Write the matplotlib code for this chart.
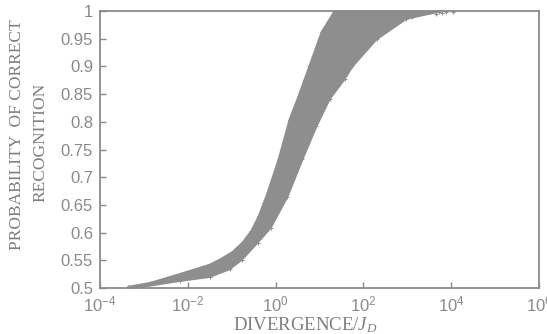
import numpy as np
import matplotlib
matplotlib.use("Agg")
import matplotlib.pyplot as plt

plt.rcParams['mathtext.fontset'] = 'custom'
plt.rcParams['mathtext.rm'] = 'Liberation Serif'
plt.rcParams['mathtext.it'] = 'Liberation Serif:italic'

# --- data (log10 of divergence, probability) ---
# upper-left edge of the point cloud
left_logx = [-3.36, -2.86, -2.02, -1.50, -1.27, -0.98, -0.75, -0.55, -0.38, -0.18, 0.07, 0.32, 0.50, 0.77, 1.05, 1.34]
left_y    = [0.502, 0.509, 0.529, 0.542, 0.551, 0.565, 0.582, 0.603, 0.630, 0.672, 0.732, 0.804, 0.841, 0.900, 0.962, 0.999]
# lower-right edge of the point cloud
right_logx = [-3.20, -2.18, -1.50, -1.05, -0.77, -0.41, -0.11, 0.27, 0.61, 0.93, 1.23, 1.57, 1.75, 2.30, 2.98, 3.73]
right_y    = [0.500, 0.513, 0.520, 0.534, 0.551, 0.582, 0.609, 0.665, 0.732, 0.792, 0.841, 0.877, 0.900, 0.949, 0.986, 0.999]
# sparse points near the top right
top_logx = [2.60, 2.90, 3.10, 3.27, 3.45, 3.66, 3.80, 3.89, 4.05]
top_y    = [0.996, 0.993, 0.990, 0.995, 0.998, 0.994, 0.997, 0.999, 0.998]

xtick_vals = [-4, -2, 0, 2, 4, 6]
ytick_vals = [0.5, 0.55, 0.6, 0.65, 0.7, 0.75, 0.8, 0.85, 0.9, 0.95, 1.0]
ytick_labels = ['0.5', '0.55', '0.6', '0.65', '0.7', '0.75', '0.8', '0.85', '0.9', '0.95', '1']

W, H = 547, 334
fig = plt.figure(figsize=(W / 100, H / 100), dpi=100)
ax = fig.add_axes([100 / W, (H - 288) / H, 439 / W, 277 / H])

pt_col = '#8e8e8e'
ax_col = '#8a8a8a'
txt_col = '#8a8a8a'
lab_col = '#7e7e7e'

lx = 10 ** np.array(left_logx)
rx = 10 ** np.array(right_logx)
poly_x = np.concatenate([lx, rx[::-1]])
poly_y = np.concatenate([left_y, right_y[::-1]])
ax.fill(poly_x, poly_y, color=pt_col, lw=1.5, ec=pt_col, joinstyle='round', zorder=2)
ax.scatter(lx, left_y, marker='+', s=8, color=pt_col, lw=0.7, zorder=3)
ax.scatter(rx, right_y, marker='+', s=8, color=pt_col, lw=0.7, zorder=3)
ax.scatter(10 ** np.array(top_logx), top_y, marker='+', s=12, color=pt_col, lw=0.8, zorder=3)

ax.set_xscale('log')
ax.set_xlim(1e-4, 1e6)
ax.set_ylim(0.5, 1.0)
ax.set_xticks([10.0 ** v for v in xtick_vals])
ax.set_xticklabels([r'$\mathdefault{10^{%d}}$' % v for v in xtick_vals])
ax.xaxis.set_minor_locator(matplotlib.ticker.NullLocator())
ax.set_yticks(ytick_vals)
ax.set_yticklabels(ytick_labels)

for s in ax.spines.values():
    s.set_color(ax_col)
    s.set_linewidth(1.3)
ax.tick_params(direction='in', length=4, width=1, color=ax_col, labelcolor=txt_col,
               labelsize=12, pad=5)
for lab in ax.get_xticklabels() + ax.get_yticklabels():
    lab.set_family('Liberation Sans')

fig.text(305 / W, 1 - 325 / H, 'DIVERGENCE/$J_D$', family='Liberation Serif', fontsize=13.5,
         color=lab_col, ha='center', va='center')
fig.text(17 / W, 1 - 135 / H, 'PROBABILITY  OF CORRECT', family='Liberation Serif', fontsize=12.5,
         color=lab_col, ha='center', va='center', rotation=90)
fig.text(40 / W, 1 - 142 / H, 'RECOGNITION', family='Liberation Serif', fontsize=12.5,
         color=lab_col, ha='center', va='center', rotation=90)

fig.savefig('out.png', dpi=100)
